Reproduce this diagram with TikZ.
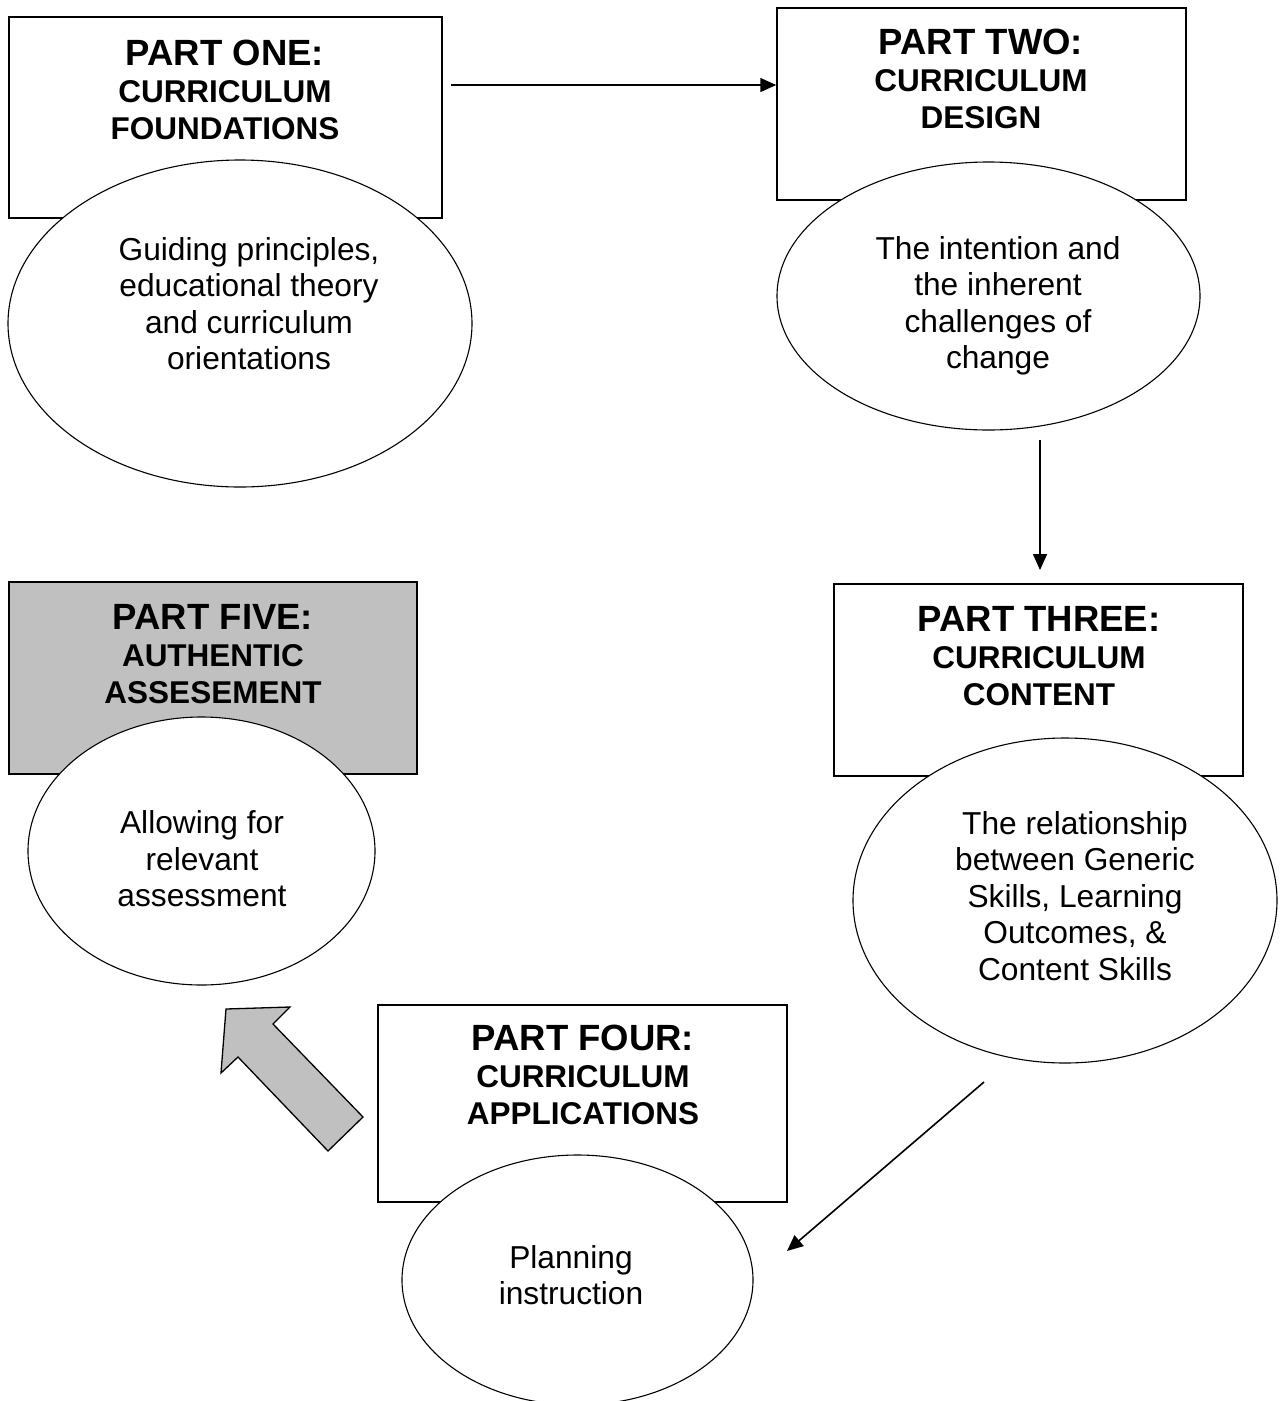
\documentclass[tikz,border=0pt]{standalone}
\usepackage{fontspec}
\setmainfont{Liberation Sans}
\usetikzlibrary{shapes.geometric,arrows.meta}
\definecolor{shade}{HTML}{C0C0C0}
% fixed-height strut so that mixed title sizes share one line pitch
\newcommand\tstrut{\rule[-11pt]{0pt}{37pt}}

\begin{document}
\begin{tikzpicture}[x=1pt,y=-1pt,
  partbox/.style={draw, rectangle, line width=1.5pt, inner sep=0pt},
  topic/.style={draw, ellipse, line width=1.1pt, fill=white, inner sep=0pt},
  title/.style={align=center, inner sep=0pt, font=\fontsize{31.5}{37}\selectfont\bfseries},
  body/.style={align=center, inner sep=0pt, font=\fontsize{31.7}{36.5}\selectfont},
  link/.style={line width=1.6pt, -{Triangle[length=16pt,width=14pt]}}]

\useasboundingbox (0,0) rectangle (1282,1401);

% part boxes
\node[partbox, minimum width=433pt, minimum height=201pt] (b1) at (225.5,117.5) {};
\node[partbox, minimum width=409pt, minimum height=192pt] (b2) at (981.5,104) {};
\node[partbox, minimum width=409pt, minimum height=192pt] (b3) at (1038.5,680) {};
\node[partbox, minimum width=409pt, minimum height=197pt] (b4) at (582.5,1103.5) {};
\node[partbox, fill=shade, minimum width=408pt, minimum height=192pt] (b5) at (213,678) {};

% topic ellipses overlapping the lower edge of each box
\node[topic, minimum width=464pt, minimum height=327pt] (e1) at (240,323.5) {};
\node[topic, minimum width=423pt, minimum height=268pt] (e2) at (988.5,296) {};
\node[topic, minimum width=424pt, minimum height=325pt] (e3) at (1065,900.5) {};
\node[topic, minimum width=351pt, minimum height=250pt] (e4) at (577.5,1280) {};
\node[topic, minimum width=347pt, minimum height=268pt] (e5) at (201.5,851) {};

% box titles
\node[title] (t1) at (225,94.7) {\tstrut{\fontsize{36.5}{37}\selectfont PART ONE:}\\\tstrut CURRICULUM\\\tstrut FOUNDATIONS};
\node[title] (t2) at (981,83.7) {\tstrut{\fontsize{36.5}{37}\selectfont PART TWO:}\\\tstrut CURRICULUM\\\tstrut DESIGN};
\node[title] (t3) at (1039,660.7) {\tstrut{\fontsize{36.5}{37}\selectfont PART THREE:}\\\tstrut CURRICULUM\\\tstrut CONTENT};
\node[title] (t4) at (583,1080.2) {\tstrut{\fontsize{36.5}{37}\selectfont PART FOUR:}\\\tstrut CURRICULUM\\\tstrut APPLICATIONS};
\node[title] (t5) at (213,659.2) {\tstrut{\fontsize{36.5}{37}\selectfont PART FIVE:}\\\tstrut AUTHENTIC\\\tstrut ASSESEMENT};

% ellipse texts
\node[body] (x1) at (249,307.8) {\strut Guiding principles,\\\strut educational theory\\\strut and curriculum\\\strut orientations};
\node[body] (x2) at (998,306.8) {\strut The intention and\\\strut the inherent\\\strut challenges of\\\strut change};
\node[body] (x3) at (1075,900) {\strut The relationship\\\strut between Generic\\\strut Skills, Learning\\\strut Outcomes, \&\\\strut Content Skills};
\node[body] (x4) at (571,1279) {\strut Planning\\\strut instruction};
\node[body] (x5) at (202,863) {\strut Allowing for\\\strut relevant\\\strut assessment};

% connectors
\coordinate (a1) at (451,85);
\draw[link] (a1) -- (a1 -| b2.west);
\coordinate (a2s) at (1040,440);
\coordinate (a2e) at (1040,570);
\draw[link] (a2s) -- (a2e);
\coordinate (a3s) at (984,1082);
\coordinate (a3e) at (787,1251);
\draw[link] (a3s) -- (a3e);

% shaded block arrow from part four towards part five
\filldraw[fill=shade, line width=1.3pt, line join=miter]
  (226,1009) -- (290,1007) -- (273,1024) -- (363,1117) -- (328,1151)
  -- (238,1057) -- (221,1073) -- cycle;
\end{tikzpicture}
\end{document}
